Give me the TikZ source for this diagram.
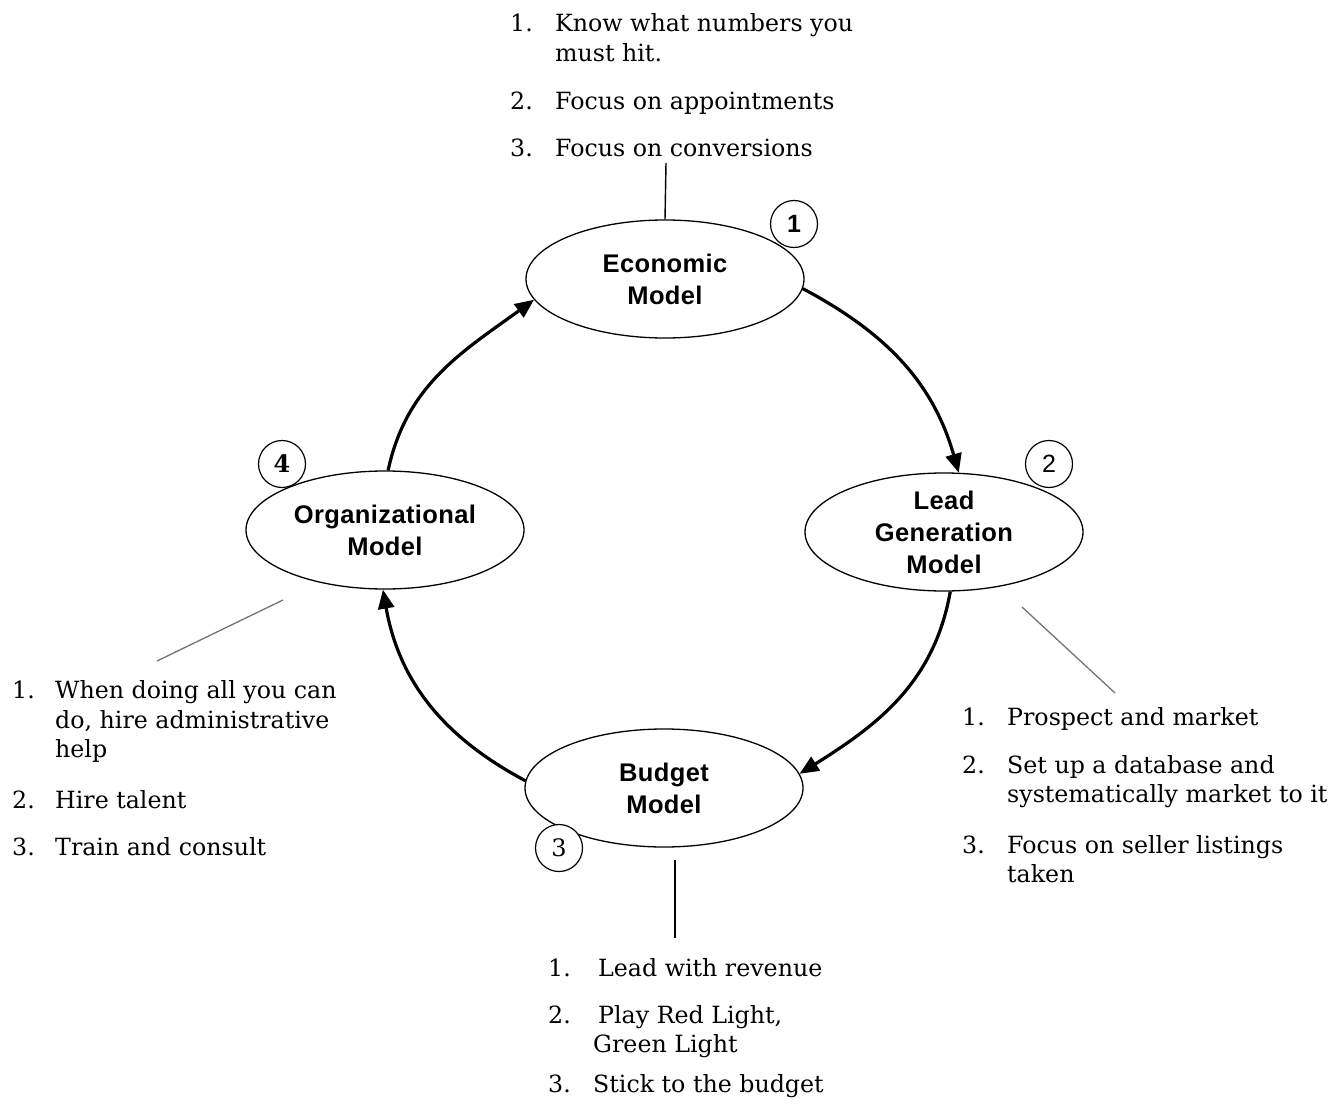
\documentclass[tikz,border=0pt]{standalone}
\usepackage{fontspec}
\setmainfont{DejaVu Serif}
\newfontfamily\labelfont[LetterSpace=1.5]{Liberation Sans}
\newfontfamily\badgesans{Liberation Sans}
\usetikzlibrary{arrows.meta,shapes.geometric}

\tikzset{
  model/.style={ellipse, draw, line width=1.3pt, fill=white,
    minimum width=278pt, minimum height=118pt, inner sep=0pt, align=center,
    font=\labelfont\bfseries\fontsize{25.5}{32}\selectfont},
  badge/.style={circle, draw, line width=1.2pt, fill=white,
    minimum size=47pt, inner sep=0pt},
  flow/.style={line width=3.2pt, -{Triangle[length=19pt,width=16pt]}},
  leader/.style={line width=1.4pt},
  softleader/.style={line width=1.3pt, draw=black!55},
  itemtext/.style={anchor=base west, inner sep=0pt,
    font=\fontsize{23.7}{29.5}\selectfont},
}

\begin{document}
\begin{tikzpicture}[x=1pt,y=1pt]
\path[use as bounding box] (0,-1110) rectangle (1330,0);

% the four models of the cycle
\node[model] (econ)   at (665,-279) {Economic\\Model};
\node[model] (lead)   at (944,-532) {Lead\\Generation\\Model};
\node[model] (budget) at (664,-788) {Budget\\Model};
\node[model] (org)    at (385,-530) {Organizational\\Model};

% cycle arrows
\draw[flow] (econ.-4)    to[out=-28, in=106] (lead.76);
\draw[flow] (lead.-84)   to[out=-100, in=32] (budget.6);
\draw[flow] (budget.177) to[out=152, in=-80] (org.-92);
\draw[flow] (org.87)     to[out=78, in=216] (econ.189);

% step numbers
\node[badge, font=\badgesans\bfseries\fontsize{25}{25}\selectfont] (b1) at (794,-224) {1};
\node[badge, font=\badgesans\fontsize{25}{25}\selectfont] (b2) at (1049,-464) {2};
\node[badge, font=\fontsize{24}{24}\selectfont] (b3) at (559,-848) {3};
\node[badge, font=\bfseries\fontsize{24}{24}\selectfont] (b4) at (282,-464) {4};

% leader lines to the notes
\coordinate (topend) at (666,-163);
\draw[leader] (topend) -- (econ.north);
\coordinate (orgA) at (283,-600);
\coordinate (orgB) at (157,-661);
\draw[softleader] (orgA) -- (orgB);
\coordinate (leadA) at (1022,-607);
\coordinate (leadB) at (1115,-693);
\draw[softleader] (leadA) -- (leadB);
\coordinate (budA) at (675,-860);
\coordinate (budB) at (675,-938);
\draw[leader] (budA) -- (budB);

% notes: economic model
\node[itemtext] (e1n) at (510,-32) {1.};
\node[itemtext] (e1a) at (555,-32) {Know what numbers you};
\node[itemtext] (e1b) at (555,-61.5) {must hit.};
\node[itemtext] (e2n) at (510,-110) {2.};
\node[itemtext] (e2a) at (555,-110) {Focus on appointments};
\node[itemtext] (e3n) at (510,-157) {3.};
\node[itemtext] (e3a) at (555,-157) {Focus on conversions};

% notes: organizational model
\node[itemtext] (o1n) at (12,-698) {1.};
\node[itemtext] (o1a) at (55,-698) {When doing all you can};
\node[itemtext] (o1b) at (55,-728) {do, hire administrative};
\node[itemtext] (o1c) at (55,-757) {help};
\node[itemtext] (o2n) at (12,-808) {2.};
\node[itemtext] (o2a) at (55,-808) {Hire talent};
\node[itemtext] (o3n) at (12,-855) {3.};
\node[itemtext] (o3a) at (55,-855) {Train and consult};

% notes: lead generation model
\node[itemtext] (l1n) at (962,-725) {1.};
\node[itemtext] (l1a) at (1007,-725) {Prospect and market};
\node[itemtext] (l2n) at (962,-773) {2.};
\node[itemtext] (l2a) at (1007,-773) {Set up a database and};
\node[itemtext] (l2b) at (1007,-802) {systematically market to it};
\node[itemtext] (l3n) at (962,-853) {3.};
\node[itemtext] (l3a) at (1007,-853) {Focus on seller listings};
\node[itemtext] (l3b) at (1007,-882) {taken};

% notes: budget model
\node[itemtext] (u1n) at (548,-976) {1.};
\node[itemtext] (u1a) at (598,-976) {Lead with revenue};
\node[itemtext] (u2n) at (548,-1023) {2.};
\node[itemtext] (u2a) at (598,-1023) {Play Red Light,};
\node[itemtext] (u2b) at (593,-1052) {Green Light};
\node[itemtext] (u3n) at (548,-1092) {3.};
\node[itemtext] (u3a) at (593,-1092) {Stick to the budget};
\end{tikzpicture}
\end{document}
